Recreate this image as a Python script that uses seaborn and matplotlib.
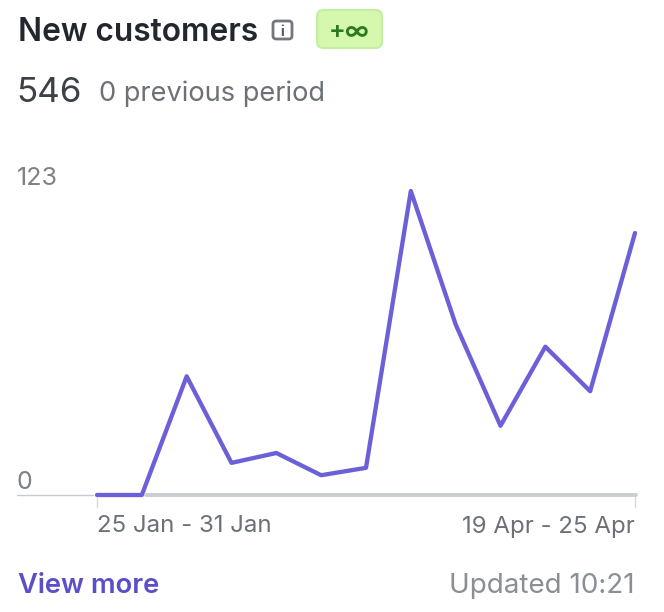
import matplotlib
matplotlib.use("Agg")
import matplotlib.pyplot as plt
from matplotlib.lines import Line2D
from matplotlib.patches import FancyBboxPatch
import pandas as pd
import seaborn as sns

periods = list(range(13))
customers = [0, 0, 48, 13, 17, 8, 11, 123, 69, 28, 60, 42, 106]
first_label = "25 Jan - 31 Jan"
last_label = "19 Apr - 25 Apr"
y_labels = ["123", "0"]

sns.set_theme(style="white")
plt.rcParams['font.family'] = ['Inter', 'DejaVu Sans']

W, H = 664, 612
fig = plt.figure(figsize=(W / 100, H / 100), dpi=100, facecolor="white")
L, R, T, B = 97, 635, 191, 495
ax = fig.add_axes([L / W, 1 - B / H, (R - L) / W, (B - T) / H])
df = pd.DataFrame({"period": periods, "customers": customers})

def fx(x): return x / W
def fy(y): return 1 - y / H

# Baseline
fig.add_artist(Line2D([fx(17), fx(93)], [fy(495), fy(495)], color="#c5cbd1", lw=1.0))
fig.add_artist(Line2D([fx(146), fx(636)], [fy(495), fy(495)], color="#c9ced2", lw=2.8))

sns.lineplot(data=df, x="period", y="customers", ax=ax, color="#6b60d8", lw=3.1,
             clip_on=False, errorbar=None, solid_joinstyle="round", solid_capstyle="round", zorder=5)
ax.set_xlim(0, 12)
ax.set_ylim(0, 123)
ax.set_xticks([])
ax.set_yticks([])
ax.set_xlabel("")
ax.set_ylabel("")
ax.patch.set_alpha(0)
sns.despine(ax=ax, left=True, bottom=True)

# Tick marks
fig.add_artist(Line2D([fx(97), fx(97)], [fy(497), fy(507)], color="#d5d8dc", lw=1.0))
fig.add_artist(Line2D([fx(635), fx(635)], [fy(497), fy(507)], color="#d5d8dc", lw=1.0))

grey = "#6c7178"
def t(x, y, s, size, color=grey, weight="normal", ha="left"):
    fig.text(fx(x), fy(y), s, fontsize=size, color=color, fontweight=weight, ha=ha, va="center_baseline")

t(17.5, 29, "New customers", 22.8, "#22272e", "semibold")
t(16.5, 89, "546", 25.2, "#3c4148")
t(99, 91, "0 previous period", 19.6, grey)
t(17, 176, y_labels[0], 18, "#7c8188")
t(17, 480, y_labels[1], 18, "#7c8188")
t(97, 524, first_label, 17.3, grey)
t(635, 524, last_label, 17.3, grey, ha="right")
t(18, 583, "View more", 19.7, "#5a4fc9", "semibold")
t(635, 583, "Updated 10:21", 20, "#8a8f95", ha="right")

# Info icon
fig.add_artist(FancyBboxPatch((fx(273), fy(39)), 19 / W, 18 / H, transform=fig.transFigure,
    boxstyle="round,pad=0,rounding_size=0.005", fc="white", ec="#74777f", lw=2))
t(282.5, 30, "i", 10, "#55585f", "bold", ha="center")

# Badge
fig.add_artist(FancyBboxPatch((fx(317), fy(48)), 65 / W, 38 / H, transform=fig.transFigure,
    boxstyle="round,pad=0,rounding_size=0.01", fc="#d5f7ae", ec="#c3eea3", lw=1.5))
t(349.5, 30, "+∞", 18, "#2b7a1e", "semibold", ha="center")

fig.savefig("out.png", dpi=100, facecolor="white")
